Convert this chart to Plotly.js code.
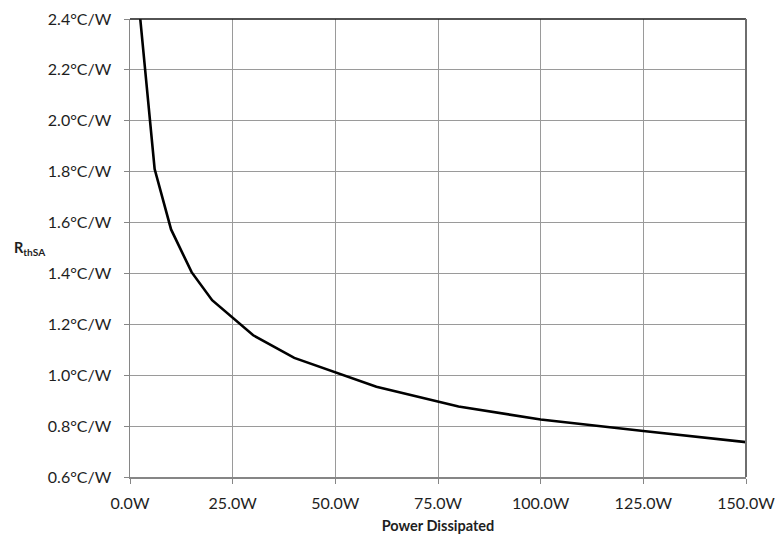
<!DOCTYPE html>
<html>
<head>
<meta charset="utf-8">
<script src="https://cdn.plot.ly/plotly-3.0.1.min.js"></script>
<style>html,body{margin:0;padding:0;background:#fff;}#chart{width:777px;height:535px;}</style>
</head>
<body>
<div id="chart"></div>
<script>
const powerW = [2.5, 6, 10, 15, 20, 30, 40, 60, 80, 100, 125, 150];
const rthSA = [2.40, 1.81, 1.573, 1.405, 1.295, 1.157, 1.068, 0.955, 0.877, 0.826, 0.781, 0.737];
const xTickVals = [0, 25, 50, 75, 100, 125, 150];
const xTickText = ["0.0W", "25.0W", "50.0W", "75.0W", "100.0W", "125.0W", "150.0W"];
const yTickVals = [0.6, 0.8, 1.0, 1.2, 1.4, 1.6, 1.8, 2.0, 2.2, 2.4];
const yTickText = ["0.6°C/W", "0.8°C/W", "1.0°C/W", "1.2°C/W", "1.4°C/W", "1.6°C/W", "1.8°C/W", "2.0°C/W", "2.2°C/W", "2.4°C/W"];

const font = "Lato, 'Open Sans', sans-serif";
const txt = '#1e1e1e';
const trace = {
  x: powerW, y: rthSA, type: 'scatter', mode: 'lines',
  line: {color: '#000000', width: 2.6}, cliponaxis: true, hoverinfo: 'skip'
};
const layout = {
  width: 777, height: 535,
  margin: {l: 130, r: 31, t: 19, b: 58},
  paper_bgcolor: '#ffffff', plot_bgcolor: '#ffffff',
  showlegend: false,
  font: {family: font, size: 16, color: txt},
  xaxis: {
    range: [0, 150], tickvals: xTickVals, ticktext: xTickText,
    showgrid: true, gridcolor: '#9a9a9a', gridwidth: 1,
    showline: true, linecolor: '#868686', linewidth: 2,
    ticks: 'outside', ticklen: 5, tickcolor: '#868686', tickwidth: 1,
    ticklabelstandoff: 6,
    zeroline: false, fixedrange: true,
    tickfont: {family: font, size: 16, color: txt},
    title: {text: '<b>Power Dissipated</b>', font: {family: font, size: 14.5, color: txt}, standoff: 10}
  },
  yaxis: {
    range: [0.6, 2.4], tickvals: yTickVals, ticktext: yTickText,
    showgrid: true, gridcolor: '#9a9a9a', gridwidth: 1,
    showline: true, linecolor: '#868686', linewidth: 1.5,
    ticks: 'outside', ticklen: 5, tickcolor: '#868686', tickwidth: 1,
    ticklabelstandoff: 9,
    zeroline: false, fixedrange: true,
    tickfont: {family: font, size: 16, color: txt}
  },
  shapes: [
    {type: 'line', xref: 'paper', yref: 'paper', x0: 0, x1: 1, y0: 1, y1: 1, line: {color: '#1a1a1a', width: 1.5}},
    {type: 'line', xref: 'paper', yref: 'paper', x0: 1, x1: 1, y0: 0, y1: 1, line: {color: '#6e6e6e', width: 2}}
  ],
  annotations: [
    {xref: 'paper', yref: 'paper', x: -0.1915, y: 0.5, xanchor: 'left', yanchor: 'middle', showarrow: false,
     text: '<b>R<sub>thSA</sub></b>', font: {family: font, size: 14.5, color: txt}}
  ]
};
Plotly.newPlot('chart', [trace], layout, {displayModeBar: false, staticPlot: true});
</script>
</body>
</html>
